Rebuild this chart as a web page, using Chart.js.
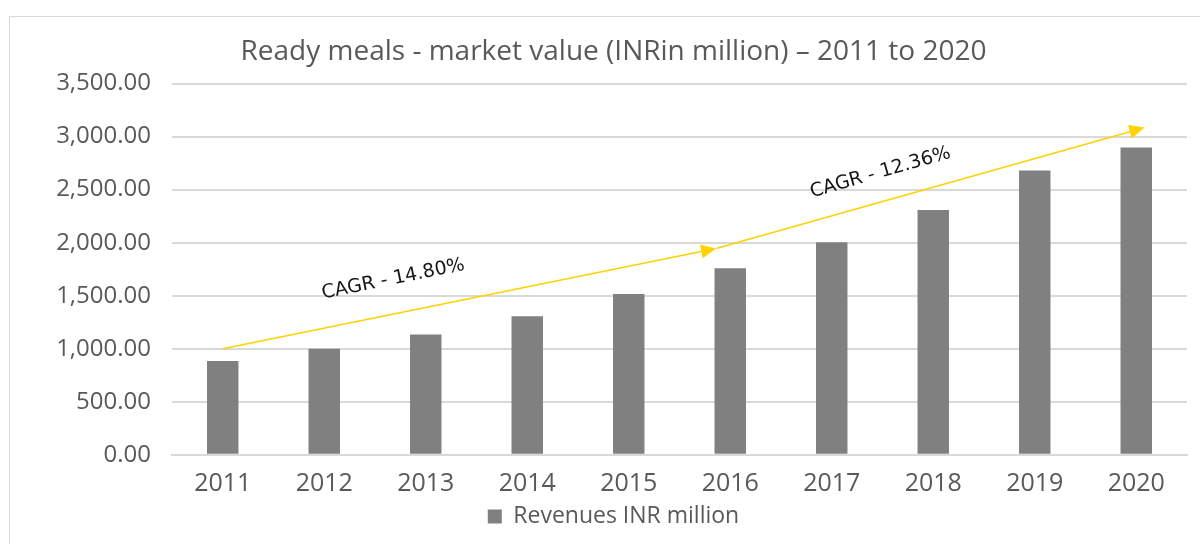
<!DOCTYPE html>
<html>
<head>
<meta charset="utf-8">
<script src="https://cdn.jsdelivr.net/npm/chart.js@4"></script>
<style>
  html, body { margin: 0; padding: 0; background: #fff; }
  #wrap { position: relative; width: 1200px; height: 544px; overflow: hidden; }
  #frame { position: absolute; left: 9px; top: 16px; width: 1200px; height: 540px; border: 1px solid #d9d9d9; }
  canvas { position: absolute; left: 0; top: 0; }
</style>
</head>
<body>
<div id="wrap">
  <div id="frame"></div>
  <canvas id="chart" width="1200" height="544"></canvas>
</div>
<script>
const years    = ['2011','2012','2013','2014','2015','2016','2017','2018','2019','2020'];
const revenues = [885, 1000, 1135, 1305, 1515, 1758, 2005, 2308, 2680, 2898];

// arrows in data units (x = category index, y = INR million)
const arrowFromX = [0, 4.86];
const arrowFromY = [1000, 1945];
const arrowToX   = [4.86, 9.08];
const arrowToY   = [1945, 3085];

// CAGR labels, anchored in data units
const cagrText  = ['CAGR - 14.80%', 'CAGR - 12.36%'];
const cagrX     = [1.68, 6.48];
const cagrY     = [1655, 2660];
const cagrAngle = [-11.5, -16];

const textGrey = '#595959';
const gridGrey = '#d9d9d9';
const arrowYellow = '#FFD200';

// ── flechas + etiquetas CAGR ──
const cagrPlugin = {
    id: 'cagr',
    afterDatasetsDraw(chart) {
        const { ctx, scales: { x, y } } = chart;
        ctx.save();
        for (let i = 0; i < arrowFromX.length; i++) {
            const x1 = x.getPixelForValue(arrowFromX[i]), y1 = y.getPixelForValue(arrowFromY[i]);
            const x2 = x.getPixelForValue(arrowToX[i]),   y2 = y.getPixelForValue(arrowToY[i]);
            const a = Math.atan2(y2 - y1, x2 - x1);
            const head = 15, half = 7;
            const bx = x2 - head * Math.cos(a), by = y2 - head * Math.sin(a);
            ctx.strokeStyle = arrowYellow;
            ctx.lineWidth = 1.6;
            ctx.beginPath();
            ctx.moveTo(x1, y1);
            ctx.lineTo(bx, by);
            ctx.stroke();
            ctx.fillStyle = arrowYellow;
            ctx.beginPath();
            ctx.moveTo(x2, y2);
            ctx.lineTo(bx + half * Math.sin(a), by - half * Math.cos(a));
            ctx.lineTo(bx - half * Math.sin(a), by + half * Math.cos(a));
            ctx.closePath();
            ctx.fill();
        }
        ctx.fillStyle = '#151515';
        ctx.font = '19px "DejaVu Sans"';
        ctx.textAlign = 'center';
        ctx.textBaseline = 'middle';
        cagrText.forEach((t, i) => {
            ctx.save();
            ctx.translate(x.getPixelForValue(cagrX[i]), y.getPixelForValue(cagrY[i]));
            ctx.rotate(cagrAngle[i] * Math.PI / 180);
            ctx.fillText(t, 0, 0);
            ctx.restore();
        });
        ctx.restore();
    }
};

new Chart(document.getElementById('chart'), {
    type: 'bar',
    data: {
        labels: years,
        datasets: [{
            label: 'Revenues INR million',
            data: revenues,
            backgroundColor: '#808080',
            borderWidth: 0,
            barPercentage: 0.62,
            categoryPercentage: 0.5
        }]
    },
    options: {
        responsive: false,
        animation: false,
        devicePixelRatio: 1,
        layout: { padding: { top: 30, left: 40, right: 13, bottom: 6 } },
        plugins: {
            title: {
                display: true,
                text: 'Ready meals - market value (INRin million) \u2013 2011 to 2020',
                color: textGrey,
                font: { family: 'Open Sans', size: 28, weight: 'normal' },
                padding: { top: 5, bottom: 15 }
            },
            legend: {
                position: 'bottom',
                labels: {
                    color: textGrey,
                    font: { family: 'Open Sans', size: 23 },
                    boxWidth: 14,
                    boxHeight: 14,
                    padding: 0
                }
            },
            tooltip: { enabled: false }
        },
        scales: {
            x: {
                grid: { display: false },
                border: { color: gridGrey, width: 2 },
                ticks: { color: textGrey, font: { family: 'Open Sans', size: 25, lineHeight: 1.05 }, padding: 8 }
            },
            y: {
                min: 0,
                max: 3500,
                afterFit: scale => { scale.width = 132; },
                grid: { color: gridGrey, lineWidth: 2, drawTicks: false },
                border: { display: false },
                ticks: {
                    stepSize: 500,
                    color: textGrey,
                    font: { family: 'Open Sans', size: 24 },
                    padding: 21,
                    callback: v => v.toLocaleString('en-US', { minimumFractionDigits: 2, maximumFractionDigits: 2 })
                }
            }
        }
    },
    plugins: [cagrPlugin]
});
</script>
</body>
</html>
